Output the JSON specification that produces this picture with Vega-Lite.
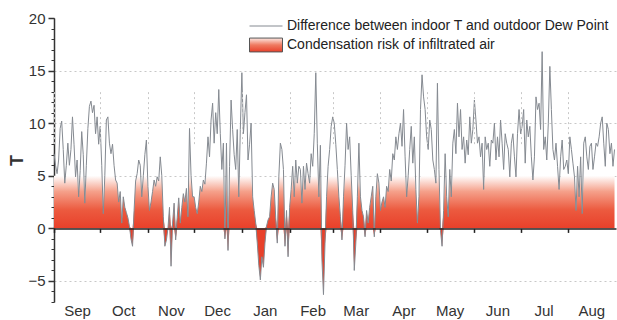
{
"$schema": "https://vega.github.io/schema/vega-lite/v6.json",
"width": 562, "height": 284,
"autosize": {"type": "none"},
"padding": {"left": 54, "top": 18, "right": 1, "bottom": 18},
"background": "white",
"config": {"view": {"stroke": null}, "font": "Liberation Sans"},
"data": {"values": [
{"t":"2014-09-01","v":7.1},{"t":"2014-09-02","v":6.0},{"t":"2014-09-03","v":5.2},{"t":"2014-09-04","v":6.5},{"t":"2014-09-05","v":9.5},{"t":"2014-09-06","v":10.2},{"t":"2014-09-07","v":7.5},{"t":"2014-09-08","v":4.3},{"t":"2014-09-09","v":6.0},{"t":"2014-09-10","v":8.1},{"t":"2014-09-11","v":6.0},{"t":"2014-09-12","v":7.5},{"t":"2014-09-13","v":10.6},{"t":"2014-09-14","v":8.0},{"t":"2014-09-15","v":4.9},{"t":"2014-09-16","v":6.5},{"t":"2014-09-17","v":3.0},{"t":"2014-09-18","v":5.5},{"t":"2014-09-19","v":9.2},{"t":"2014-09-20","v":7.0},{"t":"2014-09-21","v":2.4},{"t":"2014-09-22","v":6.0},{"t":"2014-09-23","v":9.5},{"t":"2014-09-24","v":11.6},{"t":"2014-09-25","v":12.1},{"t":"2014-09-26","v":11.0},{"t":"2014-09-27","v":11.7},{"t":"2014-09-28","v":9.0},{"t":"2014-09-29","v":10.6},{"t":"2014-09-30","v":8.0},
{"t":"2014-10-01","v":9.7},{"t":"2014-10-02","v":6.0},{"t":"2014-10-03","v":1.4},{"t":"2014-10-04","v":5.0},{"t":"2014-10-05","v":10.3},{"t":"2014-10-06","v":10.6},{"t":"2014-10-07","v":8.1},{"t":"2014-10-08","v":7.1},{"t":"2014-10-09","v":8.0},{"t":"2014-10-10","v":6.0},{"t":"2014-10-11","v":4.6},{"t":"2014-10-12","v":4.3},{"t":"2014-10-13","v":2.5},{"t":"2014-10-14","v":3.5},{"t":"2014-10-15","v":0.5},{"t":"2014-10-16","v":3.0},{"t":"2014-10-17","v":2.0},{"t":"2014-10-18","v":1.5},{"t":"2014-10-19","v":1.0},{"t":"2014-10-20","v":0.2},{"t":"2014-10-21","v":-1.0},{"t":"2014-10-22","v":-1.7},{"t":"2014-10-23","v":1.7},{"t":"2014-10-24","v":4.5},{"t":"2014-10-25","v":5.2},{"t":"2014-10-26","v":6.5},{"t":"2014-10-27","v":6.0},{"t":"2014-10-28","v":3.0},{"t":"2014-10-29","v":5.0},{"t":"2014-10-30","v":7.0},{"t":"2014-10-31","v":8.4},
{"t":"2014-11-01","v":4.0},{"t":"2014-11-02","v":1.7},{"t":"2014-11-03","v":2.5},{"t":"2014-11-04","v":3.5},{"t":"2014-11-05","v":4.6},{"t":"2014-11-06","v":4.0},{"t":"2014-11-07","v":4.9},{"t":"2014-11-08","v":4.5},{"t":"2014-11-09","v":6.8},{"t":"2014-11-10","v":5.0},{"t":"2014-11-11","v":1.1},{"t":"2014-11-12","v":-1.7},{"t":"2014-11-13","v":-1.1},{"t":"2014-11-14","v":0.0},{"t":"2014-11-15","v":2.0},{"t":"2014-11-16","v":-3.6},{"t":"2014-11-17","v":0.5},{"t":"2014-11-18","v":2.4},{"t":"2014-11-19","v":-1.1},{"t":"2014-11-20","v":1.0},{"t":"2014-11-21","v":2.9},{"t":"2014-11-22","v":0.5},{"t":"2014-11-23","v":2.0},{"t":"2014-11-24","v":3.3},{"t":"2014-11-25","v":2.5},{"t":"2014-11-26","v":3.8},{"t":"2014-11-27","v":1.1},{"t":"2014-11-28","v":9.5},{"t":"2014-11-29","v":5.0},{"t":"2014-11-30","v":3.0},
{"t":"2014-12-01","v":3.0},{"t":"2014-12-02","v":2.0},{"t":"2014-12-03","v":1.4},{"t":"2014-12-04","v":2.5},{"t":"2014-12-05","v":4.0},{"t":"2014-12-06","v":3.5},{"t":"2014-12-07","v":4.6},{"t":"2014-12-08","v":4.2},{"t":"2014-12-09","v":6.2},{"t":"2014-12-10","v":8.7},{"t":"2014-12-11","v":6.8},{"t":"2014-12-12","v":10.3},{"t":"2014-12-13","v":11.9},{"t":"2014-12-14","v":8.1},{"t":"2014-12-15","v":11.0},{"t":"2014-12-16","v":9.0},{"t":"2014-12-17","v":13.2},{"t":"2014-12-18","v":9.0},{"t":"2014-12-19","v":5.6},{"t":"2014-12-20","v":8.1},{"t":"2014-12-21","v":-1.0},{"t":"2014-12-22","v":8.1},{"t":"2014-12-23","v":-2.1},{"t":"2014-12-24","v":5.9},{"t":"2014-12-25","v":12.2},{"t":"2014-12-26","v":9.4},{"t":"2014-12-27","v":7.0},{"t":"2014-12-28","v":5.6},{"t":"2014-12-29","v":9.4},{"t":"2014-12-30","v":3.0},{"t":"2014-12-31","v":9.4},
{"t":"2015-01-01","v":14.8},{"t":"2015-01-02","v":9.0},{"t":"2015-01-03","v":11.0},{"t":"2015-01-04","v":12.7},{"t":"2015-01-05","v":6.5},{"t":"2015-01-06","v":8.0},{"t":"2015-01-07","v":10.0},{"t":"2015-01-08","v":3.0},{"t":"2015-01-09","v":1.7},{"t":"2015-01-10","v":0.5},{"t":"2015-01-11","v":-1.4},{"t":"2015-01-12","v":-3.5},{"t":"2015-01-13","v":-4.9},{"t":"2015-01-14","v":-2.7},{"t":"2015-01-15","v":-3.7},{"t":"2015-01-16","v":-1.4},{"t":"2015-01-17","v":0.2},{"t":"2015-01-18","v":0.8},{"t":"2015-01-19","v":1.1},{"t":"2015-01-20","v":3.0},{"t":"2015-01-21","v":4.3},{"t":"2015-01-22","v":3.7},{"t":"2015-01-23","v":1.0},{"t":"2015-01-24","v":-1.4},{"t":"2015-01-25","v":4.9},{"t":"2015-01-26","v":8.1},{"t":"2015-01-27","v":7.5},{"t":"2015-01-28","v":5.6},{"t":"2015-01-29","v":-1.7},{"t":"2015-01-30","v":1.7},{"t":"2015-01-31","v":-2.7},
{"t":"2015-02-01","v":2.0},{"t":"2015-02-02","v":3.7},{"t":"2015-02-03","v":5.9},{"t":"2015-02-04","v":3.0},{"t":"2015-02-05","v":6.5},{"t":"2015-02-06","v":4.3},{"t":"2015-02-07","v":5.9},{"t":"2015-02-08","v":5.6},{"t":"2015-02-09","v":2.4},{"t":"2015-02-10","v":5.9},{"t":"2015-02-11","v":3.7},{"t":"2015-02-12","v":6.2},{"t":"2015-02-13","v":5.2},{"t":"2015-02-14","v":4.3},{"t":"2015-02-15","v":7.1},{"t":"2015-02-16","v":5.9},{"t":"2015-02-17","v":9.0},{"t":"2015-02-18","v":14.8},{"t":"2015-02-19","v":8.1},{"t":"2015-02-20","v":3.0},{"t":"2015-02-21","v":7.9},{"t":"2015-02-22","v":-3.0},{"t":"2015-02-23","v":-6.3},{"t":"2015-02-24","v":-1.4},{"t":"2015-02-25","v":3.0},{"t":"2015-02-26","v":5.9},{"t":"2015-02-27","v":7.5},{"t":"2015-02-28","v":9.7},
{"t":"2015-03-01","v":10.6},{"t":"2015-03-02","v":10.0},{"t":"2015-03-03","v":8.0},{"t":"2015-03-04","v":5.6},{"t":"2015-03-05","v":3.0},{"t":"2015-03-06","v":1.1},{"t":"2015-03-07","v":-1.1},{"t":"2015-03-08","v":3.0},{"t":"2015-03-09","v":6.0},{"t":"2015-03-10","v":10.0},{"t":"2015-03-11","v":7.5},{"t":"2015-03-12","v":8.7},{"t":"2015-03-13","v":5.0},{"t":"2015-03-14","v":1.7},{"t":"2015-03-15","v":-4.0},{"t":"2015-03-16","v":-1.4},{"t":"2015-03-17","v":3.0},{"t":"2015-03-18","v":8.1},{"t":"2015-03-19","v":3.0},{"t":"2015-03-20","v":1.7},{"t":"2015-03-21","v":1.1},{"t":"2015-03-22","v":-0.8},{"t":"2015-03-23","v":1.7},{"t":"2015-03-24","v":0.5},{"t":"2015-03-25","v":2.0},{"t":"2015-03-26","v":3.0},{"t":"2015-03-27","v":4.0},{"t":"2015-03-28","v":-0.8},{"t":"2015-03-29","v":3.0},{"t":"2015-03-30","v":5.2},{"t":"2015-03-31","v":4.3},
{"t":"2015-04-01","v":1.7},{"t":"2015-04-02","v":2.5},{"t":"2015-04-03","v":3.0},{"t":"2015-04-04","v":2.0},{"t":"2015-04-05","v":4.0},{"t":"2015-04-06","v":3.5},{"t":"2015-04-07","v":5.6},{"t":"2015-04-08","v":4.5},{"t":"2015-04-09","v":7.1},{"t":"2015-04-10","v":6.5},{"t":"2015-04-11","v":8.7},{"t":"2015-04-12","v":7.5},{"t":"2015-04-13","v":9.0},{"t":"2015-04-14","v":10.0},{"t":"2015-04-15","v":7.8},{"t":"2015-04-16","v":11.3},{"t":"2015-04-17","v":6.8},{"t":"2015-04-18","v":3.0},{"t":"2015-04-19","v":5.0},{"t":"2015-04-20","v":7.5},{"t":"2015-04-21","v":9.7},{"t":"2015-04-22","v":6.2},{"t":"2015-04-23","v":8.7},{"t":"2015-04-24","v":3.7},{"t":"2015-04-25","v":0.5},{"t":"2015-04-26","v":3.0},{"t":"2015-04-27","v":11.3},{"t":"2015-04-28","v":14.6},{"t":"2015-04-29","v":12.5},{"t":"2015-04-30","v":11.3},
{"t":"2015-05-01","v":8.7},{"t":"2015-05-02","v":7.5},{"t":"2015-05-03","v":10.3},{"t":"2015-05-04","v":9.4},{"t":"2015-05-05","v":6.5},{"t":"2015-05-06","v":5.6},{"t":"2015-05-07","v":4.3},{"t":"2015-05-08","v":13.8},{"t":"2015-05-09","v":5.6},{"t":"2015-05-10","v":-0.2},{"t":"2015-05-11","v":-1.7},{"t":"2015-05-12","v":1.7},{"t":"2015-05-13","v":7.1},{"t":"2015-05-14","v":3.0},{"t":"2015-05-15","v":1.1},{"t":"2015-05-16","v":5.6},{"t":"2015-05-17","v":3.0},{"t":"2015-05-18","v":8.1},{"t":"2015-05-19","v":9.4},{"t":"2015-05-20","v":7.1},{"t":"2015-05-21","v":11.9},{"t":"2015-05-22","v":8.7},{"t":"2015-05-23","v":11.3},{"t":"2015-05-24","v":7.5},{"t":"2015-05-25","v":8.7},{"t":"2015-05-26","v":6.2},{"t":"2015-05-27","v":8.4},{"t":"2015-05-28","v":7.0},{"t":"2015-05-29","v":10.6},{"t":"2015-05-30","v":8.1},{"t":"2015-05-31","v":9.4},
{"t":"2015-06-01","v":12.2},{"t":"2015-06-02","v":10.3},{"t":"2015-06-03","v":8.1},{"t":"2015-06-04","v":8.7},{"t":"2015-06-05","v":6.8},{"t":"2015-06-06","v":8.1},{"t":"2015-06-07","v":3.7},{"t":"2015-06-08","v":8.7},{"t":"2015-06-09","v":7.5},{"t":"2015-06-10","v":8.1},{"t":"2015-06-11","v":5.9},{"t":"2015-06-12","v":8.4},{"t":"2015-06-13","v":8.1},{"t":"2015-06-14","v":10.0},{"t":"2015-06-15","v":6.5},{"t":"2015-06-16","v":8.7},{"t":"2015-06-17","v":6.8},{"t":"2015-06-18","v":10.3},{"t":"2015-06-19","v":8.1},{"t":"2015-06-20","v":5.6},{"t":"2015-06-21","v":9.0},{"t":"2015-06-22","v":8.1},{"t":"2015-06-23","v":7.5},{"t":"2015-06-24","v":4.9},{"t":"2015-06-25","v":8.1},{"t":"2015-06-26","v":9.0},{"t":"2015-06-27","v":6.8},{"t":"2015-06-28","v":4.9},{"t":"2015-06-29","v":9.0},{"t":"2015-06-30","v":11.3},
{"t":"2015-07-01","v":9.0},{"t":"2015-07-02","v":9.7},{"t":"2015-07-03","v":11.3},{"t":"2015-07-04","v":6.2},{"t":"2015-07-05","v":10.3},{"t":"2015-07-06","v":8.7},{"t":"2015-07-07","v":9.7},{"t":"2015-07-08","v":6.8},{"t":"2015-07-09","v":4.6},{"t":"2015-07-10","v":6.8},{"t":"2015-07-11","v":12.5},{"t":"2015-07-12","v":11.3},{"t":"2015-07-13","v":11.9},{"t":"2015-07-14","v":9.4},{"t":"2015-07-15","v":16.8},{"t":"2015-07-16","v":7.5},{"t":"2015-07-17","v":8.7},{"t":"2015-07-18","v":6.5},{"t":"2015-07-19","v":10.0},{"t":"2015-07-20","v":15.4},{"t":"2015-07-21","v":11.3},{"t":"2015-07-22","v":7.5},{"t":"2015-07-23","v":6.5},{"t":"2015-07-24","v":8.1},{"t":"2015-07-25","v":5.9},{"t":"2015-07-26","v":3.7},{"t":"2015-07-27","v":6.8},{"t":"2015-07-28","v":8.4},{"t":"2015-07-29","v":5.6},{"t":"2015-07-30","v":5.9},{"t":"2015-07-31","v":6.5},
{"t":"2015-08-01","v":5.2},{"t":"2015-08-02","v":8.7},{"t":"2015-08-03","v":7.5},{"t":"2015-08-04","v":6.2},{"t":"2015-08-05","v":4.9},{"t":"2015-08-06","v":1.7},{"t":"2015-08-07","v":5.9},{"t":"2015-08-08","v":3.0},{"t":"2015-08-09","v":6.8},{"t":"2015-08-10","v":1.4},{"t":"2015-08-11","v":8.1},{"t":"2015-08-12","v":8.7},{"t":"2015-08-13","v":6.8},{"t":"2015-08-14","v":5.6},{"t":"2015-08-15","v":7.8},{"t":"2015-08-16","v":8.1},{"t":"2015-08-17","v":5.6},{"t":"2015-08-18","v":6.8},{"t":"2015-08-19","v":8.1},{"t":"2015-08-20","v":7.8},{"t":"2015-08-21","v":8.7},{"t":"2015-08-22","v":10.0},{"t":"2015-08-23","v":10.6},{"t":"2015-08-24","v":8.1},{"t":"2015-08-25","v":5.9},{"t":"2015-08-26","v":10.0},{"t":"2015-08-27","v":9.4},{"t":"2015-08-28","v":7.1},{"t":"2015-08-29","v":8.1},{"t":"2015-08-30","v":5.9},{"t":"2015-08-31","v":7.5}
]},
"layer": [
{
"mark": {"type": "area", "fill": {"gradient": "linear", "x1": 0, "y1": 1, "x2": 0, "y2": 0, "stops": [{"offset": 0, "color": "#e8402a"}, {"offset": 0.35, "color": "#ec5a3f"}, {"offset": 0.7, "color": "#f5a08a"}, {"offset": 1, "color": "#ffffff"}]}},
"encoding": {
"x": {"field": "t", "type": "temporal",
 "scale": {"type": "utc", "domain": [{"year": 2014, "month": 9, "date": 1, "utc": true}, {"year": 2015, "month": 8, "date": 31, "hours": 23, "utc": true}]},
 "axis": {"tickCount": {"interval": "month", "step": 1}, "labelExpr": "utcFormat(datum.value, '%b')", "labelAlign": "center", "labelOffset": 23, "labelFontSize": 15, "labelColor": "#333", "labelFont": "Liberation Sans", "offset": -73.6, "labelPadding": 71, "tickSize": 4, "tickColor": "#222", "tickWidth": 1.5, "domainColor": "#222", "domainWidth": 1.5, "grid": true, "gridDash": [2, 3], "gridColor": "#c8c8c8", "title": null, "zindex": 1, "labelFlush": false, "labelOverlap": false, "labelBound": false}},
"y": {"field": "v", "type": "quantitative",
 "scale": {"domain": [0, 5], "range": [{"expr": "height*20/27"}, {"expr": "height*15/27"}], "clamp": true, "nice": false, "zero": false}, "axis": null},
"y2": {"datum": 0},
"opacity": {"datum": "Condensation risk of infiltrated air", "type": "nominal",
 "scale": {"range": [1]},
 "legend": {"orient": "none", "legendX": 193, "legendY": 8, "title": null, "symbolType": "M-1,-0.42L1,-0.42L1,0.42L-1,0.42Z", "symbolSize": 1089, "symbolStrokeColor": "#555", "symbolStrokeWidth": 1, "labelFontSize": 14, "labelFont": "Liberation Sans", "labelColor": "#222", "labelLimit": 500, "labelOffset": 4, "padding": 2, "fillColor": "white",
  "encoding": {"symbols": {"fill": {"value": {"gradient": "linear", "x1": 0, "y1": 1, "x2": 0, "y2": 0, "stops": [{"offset": 0, "color": "#e8402a"}, {"offset": 0.5, "color": "#ef7a60"}, {"offset": 1, "color": "#fde8e2"}]}}, "stroke": {"value": "#555"}, "strokeWidth": {"value": 1}}}}}
}
},
{
"mark": {"type": "area", "opacity": 1, "color": "#e8402a"},
"encoding": {
"x": {"field": "t", "type": "temporal"},
"y": {"field": "v", "type": "quantitative",
 "scale": {"domain": [-7, 0], "range": [{"expr": "height"}, {"expr": "height*20/27"}], "clamp": true, "nice": false, "zero": false}, "axis": null},
"y2": {"datum": 0}
}
},
{
"mark": {"type": "line", "strokeWidth": 1},
"encoding": {
"x": {"field": "t", "type": "temporal"},
"y": {"field": "v", "type": "quantitative",
 "scale": {"domain": [-7, 20], "nice": false, "zero": false},
 "axis": {"orient": "left", "values": [-5, 0, 5, 10, 15, 20], "title": "T", "titleFontSize": 18, "titleFontWeight": "bold", "titleColor": "#333", "titleFont": "Liberation Sans", "titleX": -37, "titleBaseline": "middle", "labelFontSize": 15, "labelColor": "#333", "labelFont": "Liberation Sans", "labelPadding": 3, "tickSize": 6, "tickColor": "#333", "tickWidth": 1.5, "domainColor": "#333", "domainWidth": 1.5, "grid": true, "gridDash": [2, 3], "gridColor": "#c8c8c8", "gridOpacity": {"condition": {"test": "datum.value == 20 || datum.value == 0", "value": 0}, "value": 1}}},
"stroke": {"datum": "Difference between indoor T and outdoor Dew Point", "type": "nominal",
 "scale": {"range": ["#858a91"]},
 "legend": {"orient": "none", "legendX": 193, "legendY": -11, "title": null, "symbolType": "stroke", "symbolSize": 1089, "symbolStrokeWidth": 1, "labelFontSize": 14, "labelFont": "Liberation Sans", "labelColor": "#222", "labelLimit": 500, "labelOffset": 4, "padding": 2, "fillColor": "white"}}
}
},
{
"mark": {"type": "rule", "opacity": 0},
"encoding": {
"y": {"datum": 0, "type": "quantitative",
 "scale": {"domain": [-7, 20], "nice": false, "zero": false},
 "axis": {"orient": "left", "values": [-7, -6, -5, -4, -3, -2, -1, 0, 1, 2, 3, 4, 5, 6, 7, 8, 9, 10, 11, 12, 13, 14, 15, 16, 17, 18, 19, 20], "labels": false, "domain": false, "grid": false, "tickSize": 3, "tickColor": "#333", "tickWidth": 1, "title": null}}
}
}
],
"resolve": {"scale": {"y": "independent"}}
}
